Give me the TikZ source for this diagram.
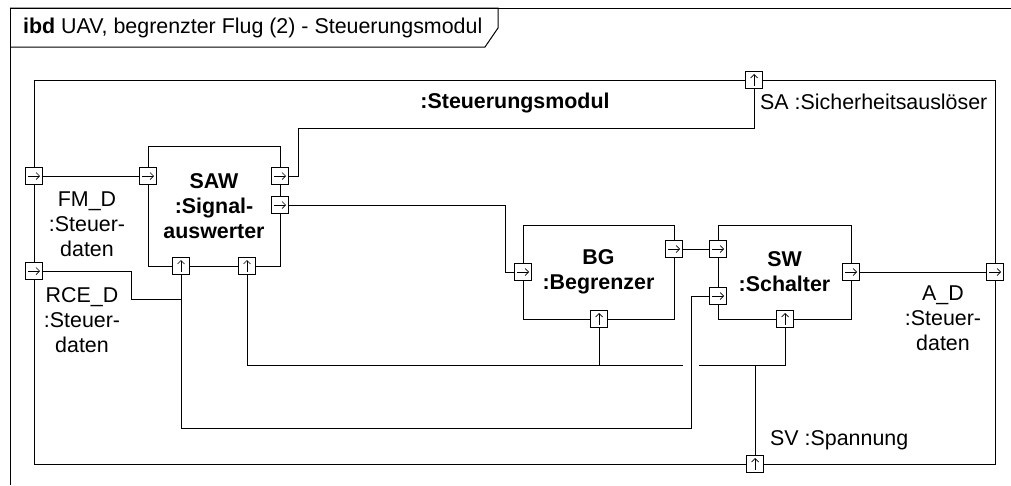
\documentclass[tikz,border=0pt]{standalone}
\usepackage{fontspec}
\setmainfont{Liberation Sans}
\usetikzlibrary{positioning,arrows.meta}

\tikzset{
  block/.style={draw, line width=1pt, inner sep=0pt, align=center,
    font=\fontsize{21.4}{25}\selectfont\bfseries},
  portr/.style={draw, fill=white, line width=0.8pt, minimum size=17pt, inner sep=0pt,
    path picture={\draw[line width=0.7pt, -{Straight Barb[length=3.5pt,width=7pt]}]
      ([xshift=-6pt]path picture bounding box.center) -- ([xshift=6pt]path picture bounding box.center);}},
  portu/.style={draw, fill=white, line width=0.8pt, minimum size=17pt, inner sep=0pt,
    path picture={\draw[line width=0.7pt, -{Straight Barb[length=3.5pt,width=7pt]}]
      ([yshift=-6pt]path picture bounding box.center) -- ([yshift=6pt]path picture bounding box.center);}},
  lbl/.style={align=center, inner sep=0pt, font=\fontsize{21.4}{25}\selectfont},
  wire/.style={line width=1pt}
}

\begin{document}
\begin{tikzpicture}[x=1pt, y=-1pt]
    \useasboundingbox (0,0) rectangle (1011,485);
    % frame and header
    \draw[wire] (1011,8) -- (10,8) -- (10,485);
    \draw[wire] (10,8) -- (498,8) -- (498,28) -- (485,47) -- (10,47);
    \node[lbl, anchor=west] (title) at (23,28)
      {\textbf{ibd} UAV, begrenzter Flug (2) - Steuerungsmodul};

    % blocks
    \node[block, minimum width=961pt, minimum height=384pt] (mod) at (514.5,272) {};
    \node[lbl, font=\fontsize{21.4}{25}\selectfont\bfseries] (modname) at (515,103) {:Steuerungsmodul};
    \node[block, minimum width=132pt, minimum height=120pt] (saw) at (214,206)
      {SAW\\:Signal-\\auswerter};
    \node[block, minimum width=151pt, minimum height=94pt] (bg) at (598.5,272)
      {BG\\:Begrenzer};
    \node[block, minimum width=133pt, minimum height=94pt] (sw) at (784.5,272)
      {SW\\:Schalter};

    % ports of the module
    \node[portr] (pFM) at (34,176) {};
    \node[portr] (pRCE) at (34,271) {};
    \node[portu] (pSA) at (754,80) {};
    \node[portu] (pSV) at (755,464) {};
    \node[portr] (pAD) at (995,272) {};
    % ports of the parts
    \node[portr] (sawIn) at (148,176) {};
    \node[portr] (sawOutA) at (280,176) {};
    \node[portr] (sawOutB) at (280,205) {};
    \node[portu] (sawBotA) at (181,266) {};
    \node[portu] (sawBotB) at (247,266) {};
    \node[portr] (bgIn) at (523,272) {};
    \node[portr] (bgOut) at (674,249) {};
    \node[portu] (bgBot) at (599,319) {};
    \node[portr] (swInA) at (718,249) {};
    \node[portr] (swInB) at (718,296) {};
    \node[portr] (swOut) at (851,272) {};
    \node[portu] (swBot) at (785,319) {};

    % port labels
    \node[lbl] (lFM) at (87,224) {FM\_D\\:Steuer-\\daten};
    \node[lbl] (lRCE) at (82,320) {RCE\_D\\:Steuer-\\daten};
    \node[lbl] (lAD) at (943,318) {A\_D\\:Steuer-\\daten};
    \node[lbl, anchor=west] (lSA) at (760,102) {SA :Sicherheitsausl\"oser};
    \node[lbl, anchor=west] (lSV) at (770,440) {SV :Spannung};

    % bend points
    \coordinate (saBend) at (298,128);
    \coordinate (rceBend) at (131,299);
    \coordinate (lowBend) at (691,428);
    \coordinate (svJoin) at (755,365);
    \coordinate (jumpL) at (683,365);
    \coordinate (jumpR) at (699,365);

    % connectors
    \begin{scope}[on background layer/.try, wire]
      \draw (pFM.east) -- (sawIn.west);
      \draw (sawOutA.east) -| (saBend) -| (pSA.south);
      \draw (sawOutB.east) -| ([xshift=-9pt]bgIn.west) -- (bgIn.west);
      \draw (bgOut.east) -- (swInA.west);
      \draw (swOut.east) -- (pAD.west);
      \draw (pRCE.east) -| (rceBend) -- (rceBend -| sawBotA);
      \draw (sawBotA.south) |- (lowBend) |- (swInB.west);
      \draw (pSV.north) -- (svJoin);
      \draw (sawBotB.south) |- (jumpL);
      \draw (jumpR) -| (swBot.south);
      \draw (bgBot.south) -- (bgBot |- svJoin);
    \end{scope}
  \end{tikzpicture}
\end{document}
